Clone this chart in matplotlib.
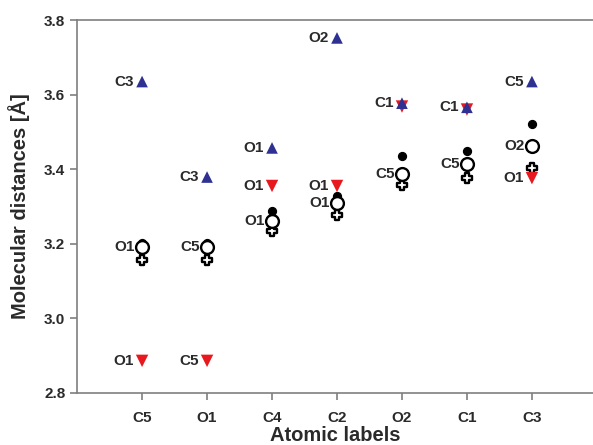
import matplotlib.pyplot as plt
import numpy as np

plt.rcParams['font.family'] = ['Liberation Sans', 'DejaVu Sans']

atoms = ["C5", "O1", "C4", "C2", "O2", "C1", "C3"]

up_vals = [3.635, 3.379, 3.457, 3.752, 3.577, 3.566, 3.635]
up_labels = ["C3", "C3", "O1", "O2", "C1", "C1", "C5"]

down_vals = [2.886, 2.886, 3.355, 3.355, 3.568, 3.560, 3.376]
down_labels = ["O1", "C5", "O1", "O1", "", "", "O1"]

dot_vals = [3.202, 3.202, 3.287, 3.328, 3.435, 3.450, 3.522]
circle_vals = [3.192, 3.192, 3.262, 3.310, 3.387, 3.415, 3.462]
circle_labels = ["O1", "C5", "O1", "O1", "C5", "C5", "O2"]
cross_vals = [3.157, 3.157, 3.233, 3.277, 3.357, 3.376, 3.403]

x = np.arange(1, len(atoms) + 1)
grey = "#7f7f7f"
txt = "#2a2a2a"

fig = plt.figure(figsize=(5.93, 4.45), dpi=100)
ax = fig.add_axes([0.130, 0.117, 0.870, 0.838])

ax.scatter(x, cross_vals, marker="P", s=60, facecolor="white", edgecolor="black", linewidth=1.7, zorder=3)
ax.scatter(x, circle_vals, marker="o", s=85, facecolor="white", edgecolor="black", linewidth=1.7, zorder=4)
ax.scatter(x, dot_vals, marker="o", s=32, color="black", zorder=2)
ax.scatter(x, down_vals, marker="v", s=80, color="#e8191e", edgecolor="none", zorder=5)
ax.scatter(x, up_vals, marker="^", s=70, color="#2e3192", edgecolor="none", zorder=6)

kw = dict(fontsize=11, fontweight="bold", color=txt, ha="right", va="center")
for xi, v, lab in zip(x, up_vals, up_labels):
    if lab:
        ax.annotate(lab, (xi, v), xytext=(-6, 0), textcoords="offset points", **kw)
for xi, v, lab in zip(x, down_vals, down_labels):
    if lab:
        ax.annotate(lab, (xi, v), xytext=(-6, 0), textcoords="offset points", **kw)
for xi, v, lab in zip(x, circle_vals, circle_labels):
    ax.annotate(lab, (xi, v), xytext=(-5, 0), textcoords="offset points", **kw)

ax.set_xlim(0, 7.94)
ax.set_ylim(2.8, 3.8)
ax.set_xticks(x)
ax.set_xticklabels(atoms)
ax.set_yticks([2.8, 3.0, 3.2, 3.4, 3.6, 3.8])
ax.set_yticklabels(["2.8", "3.0", "3.2", "3.4", "3.6", "3.8"])

for s in ["left", "bottom", "top"]:
    ax.spines[s].set_color(grey)
    ax.spines[s].set_linewidth(1.2)
ax.spines["right"].set_visible(False)
ax.tick_params(direction="out", color=grey, length=5, width=1.2, labelcolor=txt, labelsize=11)
for lab in ax.get_xticklabels() + ax.get_yticklabels():
    lab.set_fontweight("bold")
ax.tick_params(axis="x", pad=8)
ax.tick_params(axis="y", pad=3.5)

ax.set_xlabel("Atomic labels", fontsize=14.5, fontweight="bold", color=txt, labelpad=1)
ax.set_ylabel("Molecular distances [Å]", fontsize=14.5, fontweight="bold", color=txt, labelpad=10)

fig.savefig("out.png", dpi=100)
